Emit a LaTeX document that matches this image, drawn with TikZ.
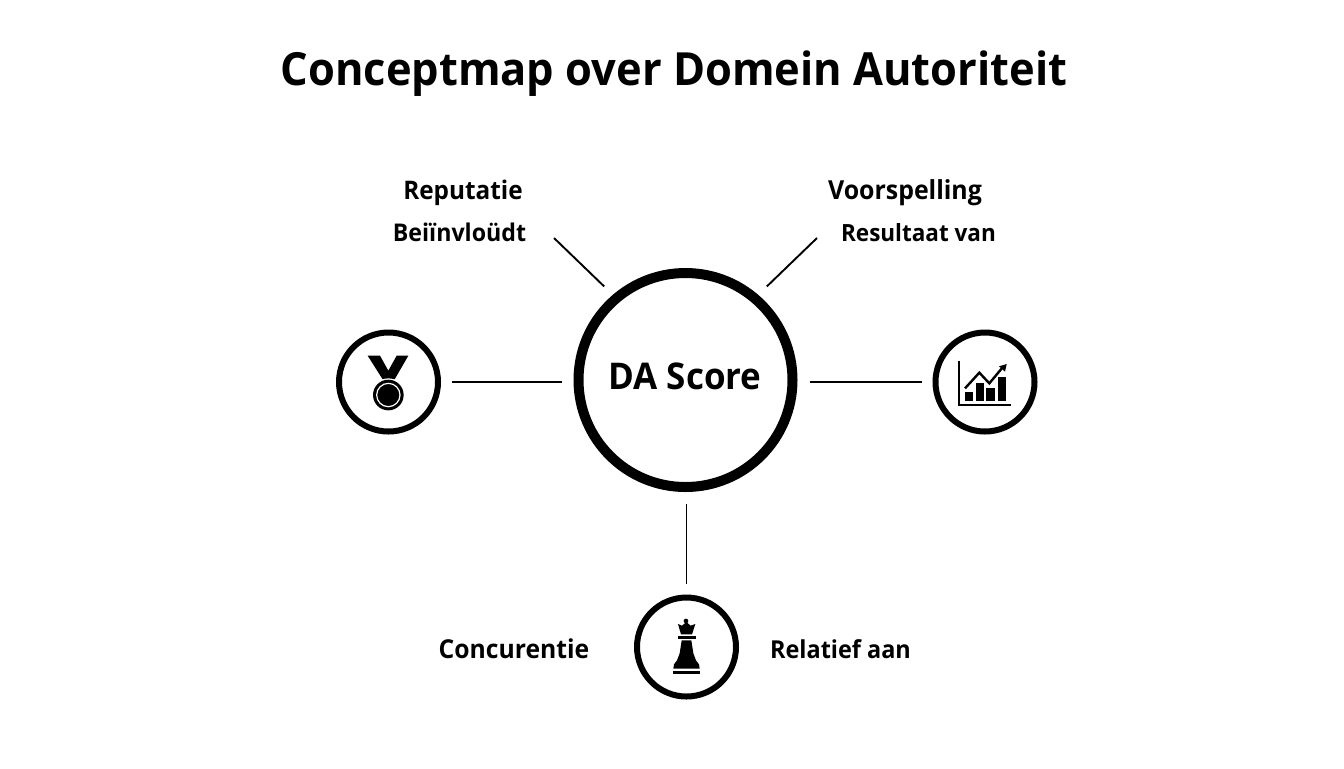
\documentclass[tikz,border=0pt]{standalone}
\usepackage{fontspec}
\setmainfont[FakeStretch=0.95]{Open Sans}
\tikzset{
    hub/.style={circle,draw=black,line width=5pt,minimum size=107pt,inner sep=0pt,outer sep=8.5pt},
    iconring/.style={circle,draw=black,line width=3pt,minimum size=49.5pt,inner sep=0pt,outer sep=7pt},
    label/.style={anchor=base,font=\bfseries,inner sep=0pt,text=black},
    spoke/.style={line width=0.95pt,black},
    zoomed/.style={x=0.16667pt,y=-0.16667pt}
}
\begin{document}
\begin{tikzpicture}[x=0.5pt,y=-0.5pt]
    \useasboundingbox (0,0) rectangle (1344,768);

    \node[label,font=\fontsize{22.85}{28}\selectfont\bfseries] (title) at (674,85.5) {Conceptmap over Domein Autoriteit};

    % Draw circles
    \node[hub] (score) at (685.5,380) {};
    \node[label,font=\fontsize{18.4}{22}\selectfont\bfseries] (scorelabel) at (685,389) {DA Score};
    \node[iconring] (medal) at (388.5,382) {};
    \node[iconring] (chart) at (985,382) {};
    \node[iconring] (queen) at (686.5,647) {};

    % Draw connectors
    \coordinate (repend) at (554,238);
    \coordinate (voorend) at (817,238);
    \draw[spoke] (medal) -- (medal -| score.west);
    \draw[spoke] (chart -| score.east) -- (chart);
    \draw[spoke] (queen |- score.south) -- (queen);
    \draw[spoke] (repend) -- (score.131);
    \draw[spoke] (voorend) -- (score.49);

    \node[label,font=\fontsize{12.8}{15}\selectfont\bfseries] (reputatie) at (463,199) {Reputatie};
    \node[label,font=\fontsize{12.2}{15}\selectfont\bfseries] (beinvloedt) at (459.5,241) {Beiïnvloüdt};
    \node[label,font=\fontsize{13.1}{15}\selectfont\bfseries] (voorspelling) at (905,199) {Voorspelling};
    \node[label,font=\fontsize{11.85}{15}\selectfont\bfseries] (resultaat) at (918.5,241) {Resultaat van};
    \node[label,font=\fontsize{13}{15}\selectfont\bfseries] (concurentie) at (514,658) {Concurentie};
    \node[label,font=\fontsize{12.35}{15}\selectfont\bfseries] (relatief) at (840.5,658) {Relatief aan};

    % Medal icon
    \begin{scope}[shift={(320,320)},zoomed]
        \fill (143,107) -- (180,107) -- (205,152) -- (230,107) -- (265,107) -- (224,178) -- (188,178) -- cycle;
        \fill[white] (205,225) circle (50);
        \fill (205,225) circle (46);
        \draw[white,line width=0.6pt] (205,225) circle (35);
    \end{scope}

    % Chart icon
    \begin{scope}[shift={(920,320)},zoomed]
        \draw[line width=1pt] (118,122) -- (118,256) -- (272,256);
        \foreach \xa/\xb/\ytop in {134/158/215,167/193/190,199/225/205,233/258/172}
           {
                \fill (\xa,\ytop) rectangle (\xb,244);
           }
        \draw[line width=1.2pt] (135,205) -- (178,158) -- (208,190) -- (248,142);
        \fill (260,132) -- (255,155) -- (237,139) -- cycle;
    \end{scope}

    % Queen icon
    \begin{scope}[shift={(625,585)},zoomed]
        \fill (183,108) circle (7);
        \fill (159,117) -- (171,122) -- (184,111) -- (197,122) -- (211,117) -- (201,148) -- (168,148) -- cycle;
        \fill (158,154) rectangle (212,161);
        \fill (170,166) -- (199,166) -- (205,205) -- (213,226) -- (222,238) -- (224,251) -- (145,251) -- (147,238) -- (156,226) -- (164,205) -- cycle;
        \fill (143,257) rectangle (226,267);
    \end{scope}
\end{tikzpicture}
\end{document}
